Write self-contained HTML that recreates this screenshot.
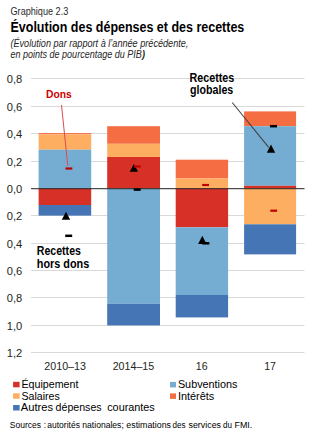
<!DOCTYPE html>
<html><head><meta charset="utf-8"><style>
html,body{margin:0;padding:0;background:#fff;}
body{width:314px;height:439px;overflow:hidden;}
svg{display:block;}
text{font-family:"Liberation Sans", sans-serif;}
</style></head><body>
<svg width="314" height="439" viewBox="0 0 314 439">
<rect x="0" y="0" width="314" height="439" fill="#fff"/>

<text x="10.5" y="14.9" font-size="10.6" fill="#2a2a2a" textLength="57.8" lengthAdjust="spacingAndGlyphs">Graphique 2.3</text>
<text x="10.5" y="31.9" font-size="13.8" font-weight="bold" fill="#000" textLength="233.8" lengthAdjust="spacingAndGlyphs">Évolution des dépenses et des recettes</text>
<text x="10.4" y="46.5" font-size="10.8" font-style="italic" fill="#262626" textLength="178" lengthAdjust="spacingAndGlyphs">(Évolution par rapport à l’année précédente,</text>
<text x="10.4" y="58.0" font-size="10.8" font-style="italic" fill="#262626" textLength="134.5" lengthAdjust="spacingAndGlyphs">en points de pourcentage du PIB<tspan font-weight="bold">)</tspan></text>
<rect x="31" y="78" width="273.5" height="1" fill="#D9D9D9"/>
<rect x="31" y="106" width="273.5" height="1" fill="#D9D9D9"/>
<rect x="31" y="133" width="273.5" height="1" fill="#D9D9D9"/>
<rect x="31" y="161" width="273.5" height="1" fill="#D9D9D9"/>
<rect x="31" y="215" width="273.5" height="1" fill="#D9D9D9"/>
<rect x="31" y="243" width="273.5" height="1" fill="#D9D9D9"/>
<rect x="31" y="270" width="273.5" height="1" fill="#D9D9D9"/>
<rect x="31" y="297" width="273.5" height="1" fill="#D9D9D9"/>
<rect x="31" y="325" width="273.5" height="1" fill="#D9D9D9"/>
<rect x="31" y="352" width="273.5" height="1" fill="#D9D9D9"/>
<rect x="38.6" y="133.1" width="52.6" height="1.3" fill="#F46D43"/>
<rect x="38.6" y="134.4" width="52.6" height="15.3" fill="#FDAE61"/>
<rect x="38.6" y="149.7" width="52.6" height="38.8" fill="#74ADD1"/>
<rect x="38.6" y="188.5" width="52.6" height="16.5" fill="#D73027"/>
<rect x="38.6" y="205.0" width="52.6" height="10.6" fill="#4575B4"/>
<rect x="107.2" y="126.2" width="52.8" height="17.6" fill="#F46D43"/>
<rect x="107.2" y="143.8" width="52.8" height="13.2" fill="#FDAE61"/>
<rect x="107.2" y="157.0" width="52.8" height="31.5" fill="#D73027"/>
<rect x="107.2" y="188.5" width="52.8" height="115.2" fill="#74ADD1"/>
<rect x="107.2" y="303.7" width="52.8" height="21.7" fill="#4575B4"/>
<rect x="175.7" y="159.7" width="52.4" height="18.8" fill="#F46D43"/>
<rect x="175.7" y="178.5" width="52.4" height="10.0" fill="#FDAE61"/>
<rect x="175.7" y="188.5" width="52.4" height="38.8" fill="#D73027"/>
<rect x="175.7" y="227.3" width="52.4" height="67.7" fill="#74ADD1"/>
<rect x="175.7" y="295.0" width="52.4" height="22.4" fill="#4575B4"/>
<rect x="244.1" y="111.4" width="52.0" height="14.8" fill="#F46D43"/>
<rect x="244.1" y="126.2" width="52.0" height="59.6" fill="#74ADD1"/>
<rect x="244.1" y="185.8" width="52.0" height="2.7" fill="#D73027"/>
<rect x="244.1" y="188.5" width="52.0" height="35.8" fill="#FDAE61"/>
<rect x="244.1" y="224.3" width="52.0" height="30.1" fill="#4575B4"/>
<rect x="31" y="188.2" width="273.5" height="1" fill="#222"/>
<line x1="61.5" y1="105" x2="67.8" y2="166" stroke="#DD4B4B" stroke-width="1"/>
<line x1="232.2" y1="102.5" x2="268.7" y2="147.3" stroke="#404040" stroke-width="1.05"/>
<polygon points="66.0,211.8 61.8,219.8 70.2,219.8" fill="#000"/>
<polygon points="133.9,164.1 129.70000000000002,171.8 138.1,171.8" fill="#000"/>
<polygon points="202.3,235.8 198.10000000000002,243.9 206.5,243.9" fill="#000"/>
<polygon points="271.0,144.6 266.8,152.7 275.2,152.7" fill="#000"/>
<rect x="65.2" y="234.55" width="7" height="2.5" fill="#000"/>
<rect x="133.7" y="188.35" width="7" height="2.5" fill="#000"/>
<rect x="202.4" y="242.05" width="7" height="2.5" fill="#000"/>
<rect x="270.0" y="124.95" width="7" height="2.5" fill="#000"/>
<rect x="65.5" y="167.4" width="6.8" height="2.2" fill="#C00000"/>
<rect x="134.0" y="165.4" width="6.8" height="2.2" fill="#C00000"/>
<rect x="202.2" y="183.9" width="6.8" height="2.2" fill="#C00000"/>
<rect x="270.3" y="209.6" width="6.8" height="2.2" fill="#C00000"/>
<text x="22.2" y="82.7" font-size="11.6" fill="#231F20" text-anchor="end" textLength="15.5" lengthAdjust="spacingAndGlyphs">0,8</text>
<text x="22.2" y="110.7" font-size="11.6" fill="#231F20" text-anchor="end" textLength="15.5" lengthAdjust="spacingAndGlyphs">0,6</text>
<text x="22.2" y="137.7" font-size="11.6" fill="#231F20" text-anchor="end" textLength="15.5" lengthAdjust="spacingAndGlyphs">0,4</text>
<text x="22.2" y="165.7" font-size="11.6" fill="#231F20" text-anchor="end" textLength="15.5" lengthAdjust="spacingAndGlyphs">0,2</text>
<text x="22.2" y="192.7" font-size="11.6" fill="#231F20" text-anchor="end" textLength="15.5" lengthAdjust="spacingAndGlyphs">0,0</text>
<text x="22.2" y="219.7" font-size="11.6" fill="#231F20" text-anchor="end" textLength="15.5" lengthAdjust="spacingAndGlyphs">0,2</text>
<text x="22.2" y="247.7" font-size="11.6" fill="#231F20" text-anchor="end" textLength="15.5" lengthAdjust="spacingAndGlyphs">0,4</text>
<text x="22.2" y="274.7" font-size="11.6" fill="#231F20" text-anchor="end" textLength="15.5" lengthAdjust="spacingAndGlyphs">0,6</text>
<text x="22.2" y="301.7" font-size="11.6" fill="#231F20" text-anchor="end" textLength="15.5" lengthAdjust="spacingAndGlyphs">0,8</text>
<text x="22.2" y="329.7" font-size="11.6" fill="#231F20" text-anchor="end" textLength="15.5" lengthAdjust="spacingAndGlyphs">1,0</text>
<text x="22.2" y="356.7" font-size="11.6" fill="#231F20" text-anchor="end" textLength="15.5" lengthAdjust="spacingAndGlyphs">1,2</text>
<text x="65.15" y="370.1" font-size="11.2" fill="#231F20" text-anchor="middle" textLength="41.6" lengthAdjust="spacingAndGlyphs">2010–13</text>
<text x="133.45" y="370.1" font-size="11.2" fill="#231F20" text-anchor="middle" textLength="41.6" lengthAdjust="spacingAndGlyphs">2014–15</text>
<text x="201.75" y="370.1" font-size="11.2" fill="#231F20" text-anchor="middle" textLength="11.8" lengthAdjust="spacingAndGlyphs">16</text>
<text x="270.05" y="370.1" font-size="11.2" fill="#231F20" text-anchor="middle" textLength="11.8" lengthAdjust="spacingAndGlyphs">17</text>
<text x="46.1" y="97.6" font-size="10.8" font-weight="bold" fill="#CC0000" textLength="25.7" lengthAdjust="spacingAndGlyphs">Dons</text>
<text x="189.4" y="82.3" font-size="11.9" font-weight="bold" fill="#000" textLength="44.9" lengthAdjust="spacingAndGlyphs">Recettes</text>
<text x="190.1" y="94.4" font-size="11.9" font-weight="bold" fill="#000" textLength="43.2" lengthAdjust="spacingAndGlyphs">globales</text>
<text x="36.8" y="255.0" font-size="11.9" font-weight="bold" fill="#000" textLength="44.1" lengthAdjust="spacingAndGlyphs">Recettes</text>
<text x="36.8" y="267.6" font-size="11.9" font-weight="bold" fill="#000" textLength="52.4" lengthAdjust="spacingAndGlyphs">hors dons</text>
<rect x="13.1" y="381.8" width="6.5" height="5.5" fill="#D73027"/>
<text x="21.4" y="388.0" font-size="11.2" fill="#000" textLength="57.0" lengthAdjust="spacingAndGlyphs">Équipement</text>
<rect x="13.1" y="393.3" width="6.5" height="5.5" fill="#FDAE61"/>
<text x="21.4" y="399.7" font-size="11.2" fill="#000" textLength="38.4" lengthAdjust="spacingAndGlyphs">Salaires</text>
<rect x="13.1" y="405.0" width="6.5" height="5.5" fill="#4575B4"/>
<rect x="170.0" y="381.9" width="6.0" height="5.5" fill="#74ADD1"/>
<text x="177.9" y="388.0" font-size="11.2" fill="#000" textLength="59.6" lengthAdjust="spacingAndGlyphs">Subventions</text>
<rect x="170.0" y="393.4" width="6.0" height="5.5" fill="#F46D43"/>
<text x="177.9" y="399.8" font-size="11.2" fill="#000" textLength="36.4" lengthAdjust="spacingAndGlyphs">Intérêts</text>
<text x="9.8" y="428.0" font-size="9.2" fill="#000" textLength="31.2" lengthAdjust="spacingAndGlyphs">Sources</text>
<text x="43.8" y="428.0" font-size="9.2" fill="#000" textLength="2.2" lengthAdjust="spacingAndGlyphs">:</text>
<text x="47.3" y="428.0" font-size="9.2" fill="#000" textLength="32.6" lengthAdjust="spacingAndGlyphs">autorités</text>
<text x="82.3" y="428.0" font-size="9.2" fill="#000" textLength="41.5" lengthAdjust="spacingAndGlyphs">nationales;</text>
<text x="126.3" y="428.0" font-size="9.2" fill="#000" textLength="44.7" lengthAdjust="spacingAndGlyphs">estimations</text>
<text x="172.6" y="428.0" font-size="9.2" fill="#000" textLength="13.0" lengthAdjust="spacingAndGlyphs">des</text>
<text x="188.5" y="428.0" font-size="9.2" fill="#000" textLength="32.5" lengthAdjust="spacingAndGlyphs">services</text>
<text x="222.9" y="428.0" font-size="9.2" fill="#000" textLength="9.0" lengthAdjust="spacingAndGlyphs">du</text>
<text x="234.5" y="428.0" font-size="9.2" fill="#000" textLength="17.7" lengthAdjust="spacingAndGlyphs">FMI.</text>
<text x="20.8" y="411.3" font-size="11.2" fill="#000" textLength="32.3" lengthAdjust="spacingAndGlyphs">Autres</text>
<text x="55.6" y="411.3" font-size="11.2" fill="#000" textLength="46.0" lengthAdjust="spacingAndGlyphs">dépenses</text>
<text x="107.2" y="411.3" font-size="11.2" fill="#000" textLength="47.6" lengthAdjust="spacingAndGlyphs">courantes</text>
</svg></body></html>
